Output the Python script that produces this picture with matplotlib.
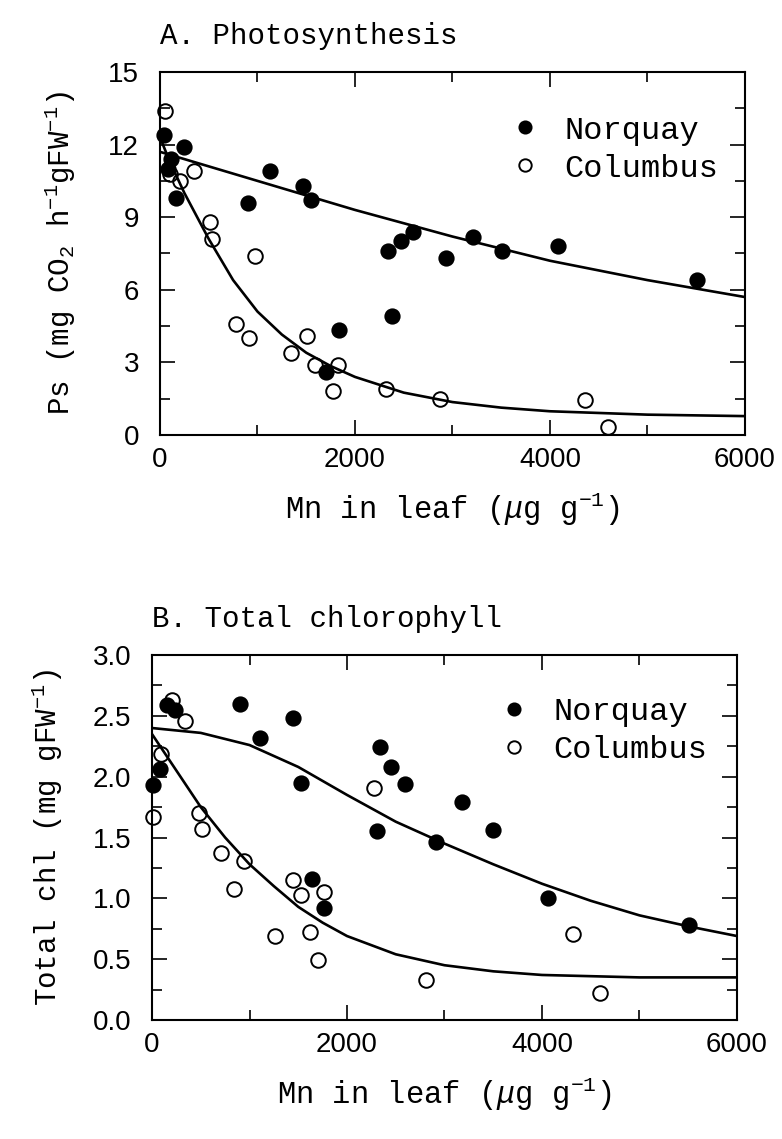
import numpy as np
import matplotlib
matplotlib.use("Agg")
import matplotlib.pyplot as plt
from matplotlib.ticker import MultipleLocator

# ---------- data ----------
# A. Photosynthesis (mg CO2 h-1 gFW-1) vs Mn in leaf (ug g-1)
ps_norquay_x = [40, 80, 110, 160, 250, 900, 1130, 1470, 1550, 1700, 1840,
                2340, 2380, 2470, 2600, 2930, 3210, 3510, 4080, 5510]
ps_norquay_y = [12.4, 11.0, 11.4, 9.8, 11.9, 9.6, 10.9, 10.3, 9.7, 2.6, 4.35,
                7.6, 4.9, 8.0, 8.4, 7.3, 8.2, 7.6, 7.8, 6.4]
ps_columbus_x = [50, 100, 210, 350, 510, 530, 775, 915, 975, 1340, 1510,
                 1590, 1775, 1830, 2320, 2870, 4360, 4600]
ps_columbus_y = [13.4, 10.8, 10.5, 10.9, 8.8, 8.1, 4.6, 4.0, 7.4, 3.4, 4.1,
                 2.9, 1.8, 2.9, 1.9, 1.5, 1.45, 0.35]

# fitted curves, read at fixed Mn values
ps_fit_norquay_x = [0, 1000, 2000, 3000, 4000, 5000, 6000]
ps_fit_norquay_y = [11.7, 10.5, 9.3, 8.2, 7.2, 6.4, 5.7]
ps_fit_columbus_x = [0, 100, 250, 500, 750, 1000, 1250, 1500, 1750, 2000,
                     2500, 3000, 3500, 4000, 5000, 6000]
ps_fit_columbus_y = [12.3, 11.3, 10.0, 8.1, 6.4, 5.1, 4.15, 3.4, 2.85, 2.4,
                     1.75, 1.36, 1.13, 0.98, 0.84, 0.78]

# B. Total chlorophyll (mg gFW-1)
chl_norquay_x = [10, 80, 150, 240, 900, 1110, 1450, 1530, 1640, 1760, 2310,
                 2340, 2450, 2590, 2910, 3180, 3500, 4060, 5510]
chl_norquay_y = [1.93, 2.06, 2.59, 2.55, 2.60, 2.32, 2.48, 1.95, 1.16, 0.92,
                 1.55, 2.24, 2.08, 1.94, 1.46, 1.79, 1.56, 1.0, 0.78]
chl_columbus_x = [10, 90, 210, 340, 485, 510, 710, 840, 940, 1260, 1450,
                  1525, 1625, 1705, 1765, 2280, 2810, 4320, 4600]
chl_columbus_y = [1.67, 2.19, 2.63, 2.46, 1.70, 1.57, 1.37, 1.08, 1.31, 0.69,
                  1.15, 1.03, 0.72, 0.49, 1.05, 1.91, 0.33, 0.71, 0.22]

chl_fit_norquay_x = [0, 500, 1000, 1500, 2000, 2500, 3000, 3500, 4000, 4500,
                     5000, 5500, 6000]
chl_fit_norquay_y = [2.40, 2.36, 2.26, 2.08, 1.85, 1.63, 1.45, 1.28, 1.12,
                     0.98, 0.86, 0.77, 0.69]
chl_fit_columbus_x = [0, 250, 500, 750, 1000, 1250, 1500, 1750, 2000, 2500,
                      3000, 3500, 4000, 5000, 6000]
chl_fit_columbus_y = [2.35, 2.05, 1.75, 1.50, 1.28, 1.10, 0.93, 0.80, 0.69,
                      0.54, 0.45, 0.40, 0.37, 0.35, 0.35]

# ---------- style ----------
# typewriter-like labels, plain sans tick numbers
mono = "Liberation Mono"
plt.rcParams["mathtext.fontset"] = "custom"
plt.rcParams["mathtext.rm"] = mono
plt.rcParams["mathtext.it"] = mono + ":italic"
plt.rcParams["font.family"] = "Liberation Sans"

fig = plt.figure(figsize=(7.82, 11.39), dpi=100)
axA = fig.add_axes([0.2046, 0.6181, 0.748, 0.3187])
axB = fig.add_axes([0.1944, 0.1045, 0.748, 0.3204])


def draw_panel(ax, xn, yn, xc, yc, fxn, fyn, fxc, fyc, leg_anchor):
    ax.plot(fxn, fyn, color="black", lw=1.9, zorder=2)
    ax.plot(fxc, fyc, color="black", lw=1.9, zorder=2)
    ax.plot(xn, yn, "o", ms=10.5, mfc="black", mec="black", mew=1.2,
            ls="none", label="Norquay", zorder=3, clip_on=False)
    ax.plot(xc, yc, "o", ms=10.5, mfc="none", mec="black", mew=1.4,
            ls="none", label="Columbus", zorder=3, clip_on=False)
    ax.set_xlim(0, 6000)
    ax.xaxis.set_major_locator(MultipleLocator(2000))
    ax.xaxis.set_minor_locator(MultipleLocator(1000))
    ax.tick_params(which="both", direction="in", top=True, right=True,
                   width=1.2, labelsize=20)
    ax.tick_params(axis="y", pad=15)
    ax.tick_params(axis="x", pad=9)
    ax.tick_params(which="major", length=11)
    ax.tick_params(which="minor", length=7)
    for s in ax.spines.values():
        s.set_linewidth(1.5)
    ax.set_xlabel(r"Mn in leaf ($\mu$g g$^{-1}$)", family=mono,
                  fontsize=22, labelpad=12)
    ax.legend(loc="upper right", bbox_to_anchor=leg_anchor,
              borderaxespad=0, borderpad=0, frameon=False,
              markerscale=0.85, handlelength=1.0, handletextpad=0.75,
              labelspacing=0.25, prop={"family": mono, "size": 23})


draw_panel(axA, ps_norquay_x, ps_norquay_y, ps_columbus_x, ps_columbus_y,
           ps_fit_norquay_x, ps_fit_norquay_y,
           ps_fit_columbus_x, ps_fit_columbus_y, (0.955, 0.88))
axA.set_ylim(0, 15)
axA.yaxis.set_major_locator(MultipleLocator(3))
axA.yaxis.set_minor_locator(MultipleLocator(1.5))
axA.set_ylabel(r"Ps (mg CO$_2$ h$^{-1}$gFW$^{-1}$)", family=mono,
               fontsize=21, labelpad=22)
axA.set_title("A. Photosynthesis", family=mono, fontsize=21, loc="left",
              pad=20)

draw_panel(axB, chl_norquay_x, chl_norquay_y, chl_columbus_x, chl_columbus_y,
           chl_fit_norquay_x, chl_fit_norquay_y,
           chl_fit_columbus_x, chl_fit_columbus_y, (0.95, 0.885))
axB.set_ylim(0, 3)
axB.yaxis.set_major_locator(MultipleLocator(0.5))
axB.yaxis.set_minor_locator(MultipleLocator(0.25))
axB.yaxis.set_major_formatter(plt.FormatStrFormatter("%.1f"))
axB.set_ylabel(r"Total chl (mg gFW$^{-1}$)", family=mono, fontsize=21,
               labelpad=20)
axB.set_title("B. Total chlorophyll", family=mono, fontsize=21, loc="left",
              pad=20)

fig.savefig("out.png", dpi=100)
